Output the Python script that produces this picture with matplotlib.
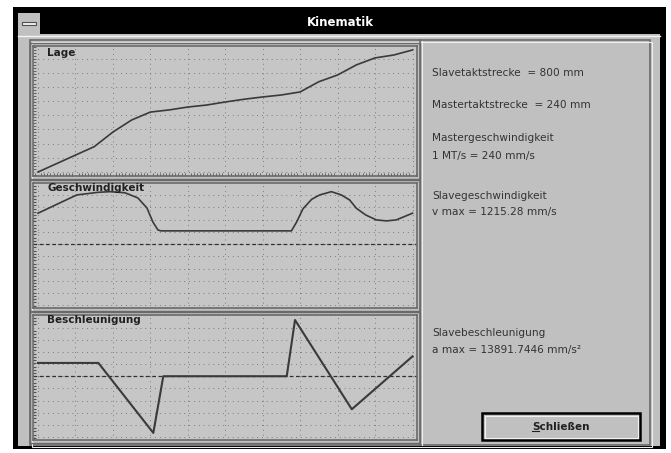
import matplotlib.pyplot as plt
from matplotlib.patches import Rectangle
from matplotlib.ticker import MultipleLocator

# master position in mm (one master cycle = 240 mm)
lage_x = [0, 24, 36, 48, 60, 72, 84, 96, 108, 120, 132, 144, 156, 168, 180, 192, 204, 216, 228, 240]
lage_y = [0, 111, 166, 262, 341, 393, 407, 426, 439, 459, 477, 492, 505, 525, 592, 636, 702, 748, 767, 800]

v_x = [0, 24.8, 38.4, 46, 55.7, 64, 69.8, 73.6, 76.8, 78.7, 162.4, 165.8, 169.8, 175.4, 180.5,
       188, 194.4, 199.7, 204, 210, 216.8, 223.4, 229.6, 240]
v_y = [716, 1139, 1200, 1215, 1190, 1070, 838, 515, 330, 307, 307, 515, 818, 1039, 1139,
       1215, 1139, 1023, 831, 676, 561, 538, 561, 716]

a_x = [0, 38.7, 73.9, 80.3, 159.4, 164.7, 201.1, 240]
a_y = [3283, 3283, -14000, 0, 0, 13891.7446, -8160, 4900]

info = [
    ("Slavetaktstrecke  = 800 mm", 73),
    ("Mastertaktstrecke  = 240 mm", 105),
    ("Mastergeschwindigkeit", 138),
    ("1 MT/s = 240 mm/s", 156),
    ("Slavegeschwindigkeit", 196),
    ("v max = 1215.28 mm/s", 212),
    ("Slavebeschleunigung", 333),
    ("a max = 13891.7446 mm/s²", 350),
]

W, H = 671, 453
BODY = '#c0c0c0'
PLOTBG = '#c6c6c6'
DARK = '#6a6a6a'
LINE = '#3a3a3a'

fig = plt.figure(figsize=(W / 100, H / 100), dpi=100)
fig.patch.set_facecolor('white')

bg = fig.add_axes([0, 0, 1, 1])
bg.set_xlim(0, W)
bg.set_ylim(H, 0)
bg.axis('off')


def rect(x0, y0, x1, y1, **kw):
    bg.add_patch(Rectangle((x0, y0), x1 - x0, y1 - y0, **kw))


# window chrome
rect(13, 7, 666, 449, facecolor='black', edgecolor='none')
rect(18, 34, 660, 446, facecolor=BODY, edgecolor='none')
rect(18, 13, 40, 34, facecolor=BODY, edgecolor='none')
rect(22, 22, 36, 25, facecolor='#f0f0f0', edgecolor='#505050', lw=0.8)
bg.plot([18, 660], [36, 36], color='#f4f4f4', lw=1)
bg.text(340, 23, "Kinematik", color='white', fontsize=8.5, fontweight='bold',
        ha='center', va='center')

# etched group frames
rect(30, 40, 650, 445, facecolor='none', edgecolor=DARK, lw=1.2)
rect(31.5, 41.5, 651.5, 446.5, facecolor='none', edgecolor='#eeeeee', lw=0.8)
bg.plot([420, 420], [40, 445], color=DARK, lw=1.2)
bg.plot([421.5, 421.5], [41, 445], color='#eeeeee', lw=0.8)

# button
rect(482, 413, 640, 440, facecolor=BODY, edgecolor='black', lw=1.8)
rect(484.5, 415.5, 637.5, 437.5, facecolor='none', edgecolor='#f2f2f2', lw=0.8)
btn = bg.text(561, 427, "Schließen", fontsize=7.5, fontweight='bold', ha='center', va='center',
              color='#202020')

for txt, y in info:
    bg.text(432, y, txt, fontsize=7.6, ha='left', va='center', color='#333333')


def panel(px, py, xs, ys, ylim, ystep, yminor, label, zero=False, xminor=False, lw=1.2):
    left, right, top, bottom = px[0], px[1], py[0], py[1]
    ax = fig.add_axes([left / W, 1 - bottom / H, (right - left) / W, (bottom - top) / H])
    ax.set_facecolor(PLOTBG)
    ax.plot(xs, ys, color=LINE, lw=lw, zorder=3)
    if zero:
        ax.axhline(0, color='#303030', lw=0.9, ls=(0, (3, 2)), zorder=2)
    # master position 0..240 mm, line starts 5 px right of frame
    scale = 374.5 / 240
    ax.set_xlim(-(38 - left) / scale, 240 + (right - 412.5) / scale)
    ax.set_ylim(*ylim)
    ax.xaxis.set_major_locator(MultipleLocator(24))
    ax.yaxis.set_major_locator(MultipleLocator(ystep))
    ax.grid(True, color='#7a7a7a', lw=0.7, ls=(0, (1, 4)))
    ax.yaxis.set_minor_locator(MultipleLocator(yminor))
    ax.tick_params(which='both', left=True, bottom=xminor, direction='in', length=0,
                   labelleft=False, labelbottom=False)
    ax.tick_params(which='minor', left=True, length=2, width=0.8, color='#505050')
    if xminor:
        ax.xaxis.set_minor_locator(MultipleLocator(2))
        ax.tick_params(which='minor', bottom=True, length=2, width=0.6, color='#505050')
    for s in ax.spines.values():
        s.set_color(DARK)
        s.set_linewidth(1.2)
    ax.text((47 - left) / (right - left), 1 - (label[1] - top) / (bottom - top), label[0],
            transform=ax.transAxes, fontsize=7.5, fontweight='bold', ha='left', va='center',
            color='#202020', zorder=5)
    rect(left - 3, top - 3, right + 3, bottom + 3, facecolor='none', edgecolor=DARK, lw=1)
    return ax


panel((33, 417), (46, 176), lage_x, lage_y, (-26, 826), 93, 20, ("Lage", 53), xminor=True)
panel((33, 417), (183, 308), v_x, v_y, (-1480, 1416), 284, 75, ("Geschwindigkeit", 188), zero=True)
panel((33, 417), (315, 440), a_x, a_y, (-15750, 15120), 3000, 800, ("Beschleunigung", 320),
      zero=True, lw=1.5)

# underline the access key "S" of the button
fig.canvas.draw()
bb = btn.get_window_extent()
inv = bg.transData.inverted()
x0, y0 = inv.transform((bb.x0, bb.y0))
x1, _ = inv.transform((bb.x1, bb.y0))
sw = (x1 - x0) * 0.115
bg.plot([x0, x0 + sw], [y0 - 1, y0 - 1], color='#202020', lw=0.8)

fig.savefig('out.png', dpi=100)
